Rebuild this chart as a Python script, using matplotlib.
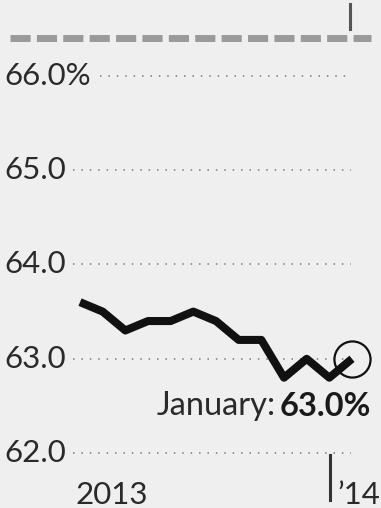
import matplotlib
matplotlib.use("Agg")
import matplotlib.pyplot as plt
import numpy as np

plt.rcParams['font.family'] = ['Lato', 'DejaVu Sans']

# Labor force participation rate, monthly, Jan 2013 - Jan 2014
months = ['Jan', 'Feb', 'Mar', 'Apr', 'May', 'Jun', 'Jul', 'Aug', 'Sep',
          'Oct', 'Nov', 'Dec', 'Jan']
rate = [63.6, 63.5, 63.3, 63.4, 63.4, 63.5, 63.4, 63.2, 63.2, 62.8, 63.0, 62.8, 63.0]
grid_levels = [62.0, 63.0, 64.0, 65.0, 66.0]
grid_labels = ['62.0', '63.0', '64.0', '65.0', '66.0%']
ref_level = 66.4   # dashed reference line at the top

bg = '#efefef'
fig = plt.figure(figsize=(3.81, 5.08), dpi=100, facecolor=bg)
ax = fig.add_axes([0, 0, 1, 1])
ax.set_facecolor(bg)
ax.set_xlim(-3.53, 13.28)
ax.set_ylim(61.42, 66.80)
ax.axis('off')

x = np.arange(len(rate))

# dotted gridlines, starting just after each label
for lvl, lab in zip(grid_levels, grid_labels):
    start = 0.88 if lab.endswith('%') else -0.33
    ax.plot([start, 11.95], [lvl, lvl], color='#7a7a7a', lw=1.1,
            linestyle=(0, (1, 4.5)), zorder=1)
    ax.text(-3.33, lvl, lab, ha='left', va='center', fontsize=22.5,
            color='#2a2a2a')

# dashed reference line and tick at top
ax.plot([-3.1, 12.85], [ref_level, ref_level], color='#9a9a9a', lw=5,
        linestyle=(0, (2.9, 0.9)), solid_capstyle='butt', zorder=1)
ax.plot([11.9, 11.9], [66.49, 66.76], color='#555555', lw=2.2, zorder=2)

# year divider at the bottom
ax.plot([11.03, 11.03], [61.50, 61.98], color='#333333', lw=2.2, zorder=2)
ax.text(-0.2, 61.56, '2013', ha='left', va='center', fontsize=22.5, color='#2a2a2a')
ax.text(11.35, 61.56, '\u201914', ha='left', va='center', fontsize=22.5, color='#2a2a2a')

# the series
ax.plot(x, rate, color='#111111', lw=5.8, solid_joinstyle='round',
        solid_capstyle='butt', zorder=3)
ax.plot(x[-1], rate[-1], marker='o', markersize=26, markerfacecolor='none',
        markeredgecolor='#111111', markeredgewidth=1.6, zorder=4)

# annotation: "January: 63.0%" with bold value
val = ax.text(12.82, 62.50, f'{rate[-1]:.1f}%', ha='right', va='center',
              fontsize=23.5, fontweight='bold', color='#1a1a1a')
fig.canvas.draw()
bb = val.get_window_extent(renderer=fig.canvas.get_renderer())
left = ax.transData.inverted().transform((bb.x0, bb.y0))[0]
ax.text(left - 0.15, 62.50, 'January:', ha='right', va='center',
        fontsize=23.5, color='#2a2a2a')

fig.savefig('out.png', dpi=100, facecolor=bg)
